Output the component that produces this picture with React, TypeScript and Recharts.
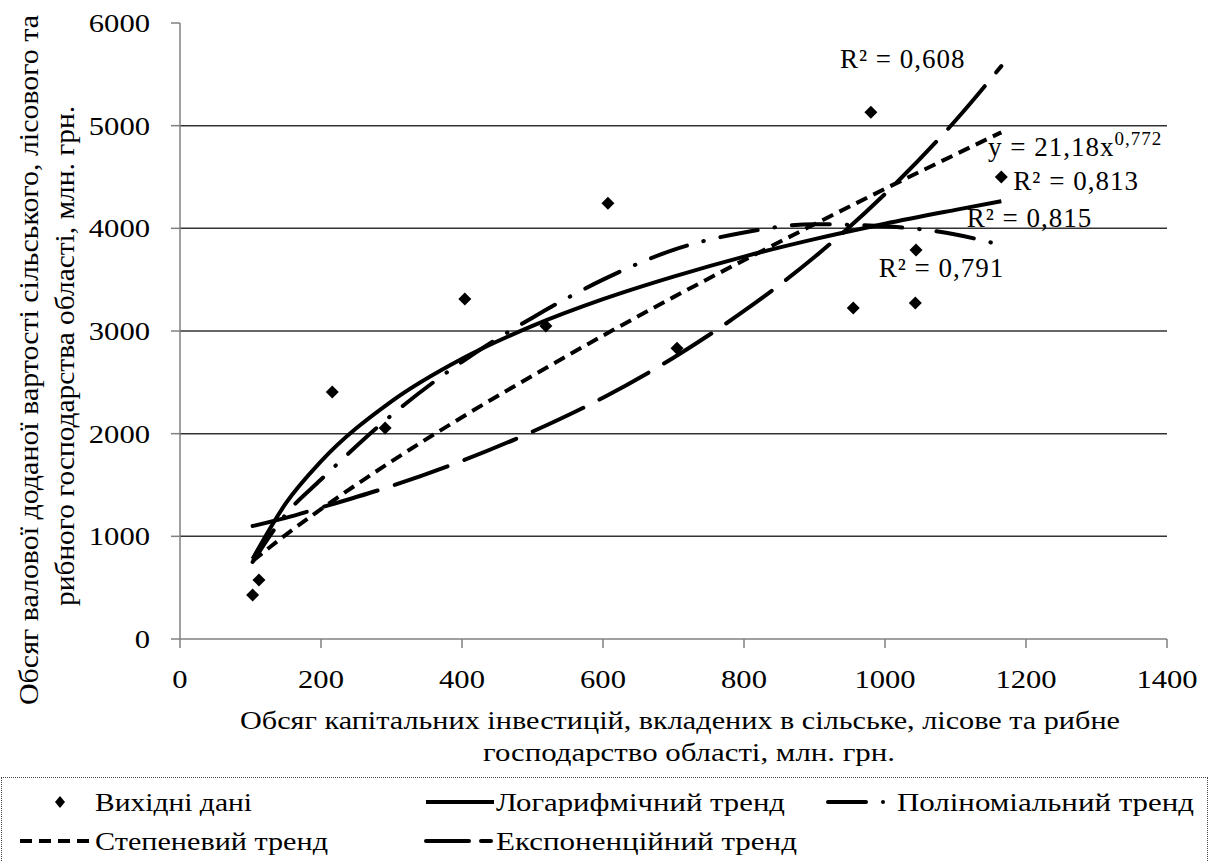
import React from 'react';
import { ComposedChart, Scatter, Line, XAxis, YAxis, ReferenceLine, ReferenceDot, Legend } from 'recharts';

// source points
const investX = [103, 112, 216, 291, 404, 519, 607, 705, 955, 980, 1043, 1044, 1165];
const valueY = [428, 574, 2405, 2054, 3311, 3048, 4245, 2833, 3223, 5131, 3272, 3788, 4499];

// trend lines
const trendX = [103, 150, 200, 300, 400, 500, 600, 700, 800, 900, 1000, 1100, 1165];
const logTrend = [780, 1320, 1730, 2315, 2730, 3050, 3310, 3530, 3725, 3895, 4045, 4180, 4265];
const polyTrend = [750, 1215, 1553, 2180, 2700, 3130, 3500, 3790, 3960, 4040, 4020, 3940, 3836];
const powerTrend = [760, 1015, 1265, 1730, 2160, 2565, 2955, 3330, 3690, 4040, 4385, 4720, 4935];
const expTrend = [1100, 1180, 1280, 1490, 1735, 2020, 2350, 2740, 3195, 3720, 4335, 5050, 5580];

const xTicks = [0, 200, 400, 600, 800, 1000, 1200, 1400];
const yTicks = [0, 1000, 2000, 3000, 4000, 5000, 6000];
const gridValues = [1000, 2000, 3000, 4000, 5000];

const FONT = '"Liberation Serif", "Times New Roman", serif';

const points = investX.map((x, i) => ({ x, y: valueY[i] }));
const toSeries = (vals: number[]) => trendX.map((x, i) => ({ x, y: vals[i] }));

const Diamond = (props: any) => {
  const { cx, cy } = props;
  const r = 6.5;
  return <polygon points={`${cx},${cy - r} ${cx + r},${cy} ${cx},${cy + r} ${cx - r},${cy}`} fill="#000" />;
};

// the reference text is a little wider than the font, so stretch it
const digitW = 15.3;

const XTick = (p: any) => {
  const s = String(p.payload.value);
  return (
    <text x={p.x} y={p.y} dy={40} textAnchor="middle" fontSize={26} fill="#000" fontFamily={FONT}
      textLength={s.length * digitW} lengthAdjust="spacingAndGlyphs">
      {s}
    </text>
  );
};

const YTick = (p: any) => {
  const s = String(p.payload.value);
  return (
    <text x={p.x} y={p.y} dx={-21} dy={9} textAnchor="end" fontSize={26} fill="#000" fontFamily={FONT}
      textLength={s.length * digitW} lengthAdjust="spacingAndGlyphs">
      {s}
    </text>
  );
};

const Annot = (props: any) => {
  const { viewBox, text, sup } = props;
  const x = viewBox.x + viewBox.width / 2;
  const y = viewBox.y + viewBox.height / 2;
  return (
    <text x={x} y={y} fontSize={27} fill="#000" fontFamily={FONT} letterSpacing={1}>
      {text}
      {sup && (
        <tspan dy={-11} fontSize={19}>
          {sup}
        </tspan>
      )}
    </text>
  );
};

const YTitle = () => (
  <g fontFamily={FONT} fontSize={27} fill="#000">
    <text transform="translate(38,360) rotate(-90)" textAnchor="middle" textLength={690} lengthAdjust="spacingAndGlyphs">
      Обсяг валової доданої вартості сільського, лісового та
    </text>
    <text transform="translate(74,356) rotate(-90)" textAnchor="middle" textLength={500} lengthAdjust="spacingAndGlyphs">
      рибного господарства області, млн. грн.
    </text>
  </g>
);

const XTitle = () => (
  <g fontFamily={FONT} fontSize={26} fill="#000">
    <text x={680} y={729} textAnchor="middle" textLength={880} lengthAdjust="spacingAndGlyphs">
      Обсяг капітальних інвестицій, вкладених в сільське, лісове та рибне
    </text>
    <text x={689} y={761} textAnchor="middle" textLength={412} lengthAdjust="spacingAndGlyphs">
      господарство області, млн. грн.
    </text>
  </g>
);

const LegendBox = () => (
  <div style={{ width: 1207, height: 90, border: '1px dotted #444', boxSizing: 'border-box' }}>
    <svg width={1205} height={88} style={{ display: 'block' }}>
      <g fontFamily={FONT} fontSize={26} fill="#000">
        <polygon points="58,18 63,24 58,30 53,24" fill="#000" />
        <text x={93} y={33} textLength={157} lengthAdjust="spacingAndGlyphs">Вихідні дані</text>
        <line x1={424} y1={24} x2={492} y2={24} stroke="#000" strokeWidth={4} />
        <text x={494} y={33} textLength={289} lengthAdjust="spacingAndGlyphs">Логарифмічний тренд</text>
        <line x1={826} y1={24} x2={864} y2={24} stroke="#000" strokeWidth={4} strokeLinecap="round" />
        <circle cx={881} cy={24} r={2} fill="#000" />
        <text x={895} y={33} textLength={297} lengthAdjust="spacingAndGlyphs">Поліноміальний тренд</text>
        <line x1={18} y1={63} x2={90} y2={63} stroke="#000" strokeWidth={4} strokeDasharray="12 7" />
        <text x={93} y={72} textLength={233} lengthAdjust="spacingAndGlyphs">Степеневий тренд</text>
        <line x1={424} y1={63} x2={467} y2={63} stroke="#000" strokeWidth={4} strokeLinecap="round" />
        <line x1={479} y1={63} x2={489} y2={63} stroke="#000" strokeWidth={4} strokeLinecap="round" />
        <text x={494} y={72} textLength={301} lengthAdjust="spacingAndGlyphs">Експоненційний тренд</text>
      </g>
    </svg>
  </div>
);

export default function App() {
  return (
    <div style={{ position: 'absolute', left: 0, top: 0, width: 1210, height: 861, background: '#fff' }}>
      <ComposedChart
        width={1210}
        height={861}
        margin={{ top: 23, right: 43, left: 100, bottom: 182 }}
        style={{ fontFamily: FONT }}
      >
        <XAxis
          type="number"
          dataKey="x"
          domain={[0, 1400]}
          ticks={xTicks}
          tick={<XTick />}
          tickSize={9}
          tickMargin={0}
          height={40}
          stroke="#808080"
          strokeWidth={1.5}
          allowDataOverflow
        />
        <YAxis
          type="number"
          dataKey="y"
          domain={[0, 6000]}
          ticks={yTicks}
          tick={<YTick />}
          tickSize={9}
          tickMargin={0}
          width={80}
          stroke="#808080"
          strokeWidth={1.5}
          allowDataOverflow
        />
        {gridValues.map((v) => (
          <ReferenceLine key={v} y={v} stroke="#333" strokeWidth={1.5} />
        ))}
        <Line data={toSeries(logTrend)} dataKey="y" type="monotone" stroke="#000" strokeWidth={4} dot={false} isAnimationActive={false} />
        <Line data={toSeries(polyTrend)} dataKey="y" type="monotone" stroke="#000" strokeWidth={4} strokeLinecap="round" strokeDasharray="38 17 0.5 17" dot={false} isAnimationActive={false} />
        <Line data={toSeries(powerTrend)} dataKey="y" type="monotone" stroke="#000" strokeWidth={4} strokeDasharray="12 7" dot={false} isAnimationActive={false} />
        <Line data={toSeries(expTrend)} dataKey="y" type="monotone" stroke="#000" strokeWidth={4} strokeLinecap="round" strokeDasharray="56 18" dot={false} isAnimationActive={false} />
        <Scatter data={points} shape={<Diamond />} isAnimationActive={false} />
        <ReferenceDot x={936} y={5560} r={1} fill="none" stroke="none" label={<Annot text="R² = 0,608" />} />
        <ReferenceDot x={1146} y={4705} r={1} fill="none" stroke="none" label={<Annot text="y = 21,18x" sup="0,772" />} />
        <ReferenceDot x={1182} y={4370} r={1} fill="none" stroke="none" label={<Annot text="R² = 0,813" />} />
        <ReferenceDot x={1116} y={4012} r={1} fill="none" stroke="none" label={<Annot text="R² = 0,815" />} />
        <ReferenceDot x={991} y={3524} r={1} fill="none" stroke="none" label={<Annot text="R² = 0,791" />} />
        <Legend
          layout="horizontal"
          verticalAlign="middle"
          align="center"
          content={() => <LegendBox />}
          wrapperStyle={{ position: 'absolute', left: 1, top: 777, width: 1207, height: 90 }}
        />
        <YTitle />
        <XTitle />
      </ComposedChart>
    </div>
  );
}
